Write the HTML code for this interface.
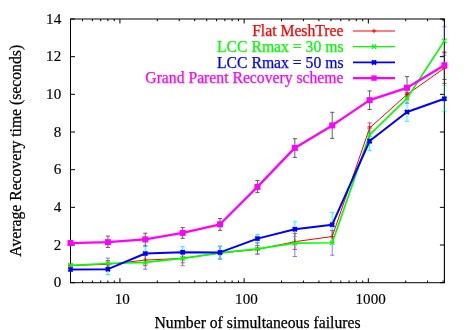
<!DOCTYPE html><html><head><meta charset="utf-8"><style>html,body{margin:0;padding:0;background:#fff}body{width:471px;height:330px;overflow:hidden;position:relative}svg text{font-family:"Liberation Serif",serif;stroke-width:0.25px}svg text.k{stroke:#000}svg text.t{stroke:#000;stroke-width:0.15px}</style></head><body><svg width="471" height="330" viewBox="0 0 471 330" style="position:absolute;left:0;top:0;will-change:transform">
<rect width="471" height="330" fill="#fff"/>
<path d="M70.5 282.70h4.5M444.4 282.70h-4.5M70.5 245.03h4.5M444.4 245.03h-4.5M70.5 207.36h4.5M444.4 207.36h-4.5M70.5 169.69h4.5M444.4 169.69h-4.5M70.5 132.01h4.5M444.4 132.01h-4.5M70.5 94.34h4.5M444.4 94.34h-4.5M70.5 56.67h4.5M444.4 56.67h-4.5M70.5 19.00h4.5M444.4 19.00h-4.5M119.93 282.7v-4.5M119.93 19.0v4.5M244.13 282.7v-4.5M244.13 19.0v4.5M368.34 282.7v-4.5M368.34 19.0v4.5M82.54 282.7v-2.2M82.54 19.0v2.2M92.37 282.7v-2.2M92.37 19.0v2.2M100.69 282.7v-2.2M100.69 19.0v2.2M107.89 282.7v-2.2M107.89 19.0v2.2M114.24 282.7v-2.2M114.24 19.0v2.2M157.32 282.7v-2.2M157.32 19.0v2.2M179.19 282.7v-2.2M179.19 19.0v2.2M194.71 282.7v-2.2M194.71 19.0v2.2M206.74 282.7v-2.2M206.74 19.0v2.2M216.58 282.7v-2.2M216.58 19.0v2.2M224.89 282.7v-2.2M224.89 19.0v2.2M232.10 282.7v-2.2M232.10 19.0v2.2M238.45 282.7v-2.2M238.45 19.0v2.2M281.52 282.7v-2.2M281.52 19.0v2.2M303.40 282.7v-2.2M303.40 19.0v2.2M318.91 282.7v-2.2M318.91 19.0v2.2M330.95 282.7v-2.2M330.95 19.0v2.2M340.79 282.7v-2.2M340.79 19.0v2.2M349.10 282.7v-2.2M349.10 19.0v2.2M356.30 282.7v-2.2M356.30 19.0v2.2M362.66 282.7v-2.2M362.66 19.0v2.2M405.73 282.7v-2.2M405.73 19.0v2.2M427.60 282.7v-2.2M427.60 19.0v2.2M443.12 282.7v-2.2M443.12 19.0v2.2" stroke="#000" stroke-width="1" fill="none"/>
<rect x="70.5" y="19.0" width="373.9" height="263.7" fill="none" stroke="#000" stroke-width="1"/>
<path d="M220.06 246.20V258.90M217.96 246.20h4.2M217.96 258.90h4.2" stroke="#ff3030" stroke-width="0.9" fill="none"/>
<path d="M220.06 246.30V259.00M217.96 246.30h4.2M217.96 259.00h4.2" stroke="#7070ff" stroke-width="0.9" fill="none"/>
<path d="M70.50 268.30V270.70M68.40 268.30h4.2M68.40 270.70h4.2M107.89 263.90V274.50M105.79 263.90h4.2M105.79 274.50h4.2M145.28 246.10V260.90M143.18 246.10h4.2M143.18 260.90h4.2M182.67 246.60V257.80M180.57 246.60h4.2M180.57 257.80h4.2M220.06 246.50V258.60M217.96 246.50h4.2M217.96 258.60h4.2M257.45 234.50V242.40M255.35 234.50h4.2M255.35 242.40h4.2M294.84 221.80V236.60M292.74 221.80h4.2M292.74 236.60h4.2M332.23 212.40V237.00M330.13 212.40h4.2M330.13 237.00h4.2M369.62 131.10V150.50M367.52 131.10h4.2M367.52 150.50h4.2M407.01 103.10V121.30M404.91 103.10h4.2M404.91 121.30h4.2M444.40 85.30V111.70M442.30 85.30h4.2M442.30 111.70h4.2" stroke="#00ffff" stroke-width="0.9" fill="none"/>
<path d="M70.50 264.50V266.50M68.40 264.50h4.2M68.40 266.50h4.2M107.89 260.50V268.10M105.79 260.50h4.2M105.79 268.10h4.2M145.28 254.50V265.70M143.18 254.50h4.2M143.18 265.70h4.2M182.67 254.00V262.80M180.57 254.00h4.2M180.57 262.80h4.2M257.45 245.50V254.00M255.35 245.50h4.2M255.35 254.00h4.2M294.84 233.60V249.50M292.74 233.60h4.2M292.74 249.50h4.2M332.23 230.60V242.40M330.13 230.60h4.2M330.13 242.40h4.2M369.62 122.90V133.10M367.52 122.90h4.2M367.52 133.10h4.2M407.01 92.30V96.70M404.91 92.30h4.2M404.91 96.70h4.2M444.40 52.90V83.50M442.30 52.90h4.2M442.30 83.50h4.2" stroke="#ff3030" stroke-width="0.9" fill="none"/>
<path d="M70.50 264.00V266.60M68.40 264.00h4.2M68.40 266.60h4.2M107.89 258.10V268.90M105.79 258.10h4.2M105.79 268.90h4.2M145.28 255.30V269.30M143.18 255.30h4.2M143.18 269.30h4.2M182.67 251.20V265.70M180.57 251.20h4.2M180.57 265.70h4.2M257.45 243.10V254.10M255.35 243.10h4.2M255.35 254.10h4.2M294.84 229.90V256.50M292.74 229.90h4.2M292.74 256.50h4.2M332.23 230.30V255.20M330.13 230.30h4.2M330.13 255.20h4.2M369.62 126.50V143.40M367.52 126.50h4.2M367.52 143.40h4.2M407.01 93.50V103.10M404.91 93.50h4.2M404.91 103.10h4.2M444.40 26.80V55.20M442.30 26.80h4.2M442.30 55.20h4.2" stroke="#7070ff" stroke-width="0.9" fill="none"/>
<path d="M70.50 241.50V244.60M68.40 241.50h4.2M68.40 244.60h4.2M107.89 236.10V247.45M105.79 236.10h4.2M105.79 247.45h4.2M145.28 233.20V245.96M143.18 233.20h4.2M143.18 245.96h4.2M182.67 227.60V238.30M180.57 227.60h4.2M180.57 238.30h4.2M220.06 218.50V230.40M217.96 218.50h4.2M217.96 230.40h4.2M257.45 180.50V192.60M255.35 180.50h4.2M255.35 192.60h4.2M294.84 138.70V157.40M292.74 138.70h4.2M292.74 157.40h4.2M332.23 112.30V138.40M330.13 112.30h4.2M330.13 138.40h4.2M369.62 90.90V109.45M367.52 90.90h4.2M367.52 109.45h4.2M407.01 76.60V99.00M404.91 76.60h4.2M404.91 99.00h4.2M444.40 52.00V79.50M442.30 52.00h4.2M442.30 79.50h4.2" stroke="#505050" stroke-width="0.9" fill="none"/>
<path d="M444.4 19.0V282.7" stroke="#000" stroke-width="1" opacity="0.6"/>
<polyline points="70.50,265.50 107.89,264.30 145.28,260.10 182.67,258.40 220.06,253.00 257.45,249.40 294.84,241.70 332.23,236.50 369.62,128.00 407.01,94.50 444.40,68.20" stroke="#ff0000" stroke-width="1.0" fill="none" stroke-linejoin="round"/>
<path d="M68.30 265.50h4.4M70.50 263.30v4.4" stroke="#ff0000" stroke-width="1" fill="none"/>
<path d="M105.69 264.30h4.4M107.89 262.10v4.4" stroke="#ff0000" stroke-width="1" fill="none"/>
<path d="M143.08 260.10h4.4M145.28 257.90v4.4" stroke="#ff0000" stroke-width="1" fill="none"/>
<path d="M180.47 258.40h4.4M182.67 256.20v4.4" stroke="#ff0000" stroke-width="1" fill="none"/>
<path d="M217.86 253.00h4.4M220.06 250.80v4.4" stroke="#ff0000" stroke-width="1" fill="none"/>
<path d="M255.25 249.40h4.4M257.45 247.20v4.4" stroke="#ff0000" stroke-width="1" fill="none"/>
<path d="M292.64 241.70h4.4M294.84 239.50v4.4" stroke="#ff0000" stroke-width="1" fill="none"/>
<path d="M330.03 236.50h4.4M332.23 234.30v4.4" stroke="#ff0000" stroke-width="1" fill="none"/>
<path d="M367.42 128.00h4.4M369.62 125.80v4.4" stroke="#ff0000" stroke-width="1" fill="none"/>
<path d="M404.81 94.50h4.4M407.01 92.30v4.4" stroke="#ff0000" stroke-width="1" fill="none"/>
<path d="M442.20 68.20h4.4M444.40 66.00v4.4" stroke="#ff0000" stroke-width="1" fill="none"/>
<polyline points="70.50,265.30 107.89,263.50 145.28,262.30 182.67,258.45 220.06,252.90 257.45,248.90 294.84,243.20 332.23,242.75 369.62,134.90 407.01,98.30 444.40,40.90" stroke="#00ff00" stroke-width="1.7" fill="none" stroke-linejoin="round"/>
<path d="M68.30 263.10l4.4 4.4M68.30 267.50l4.4 -4.4" stroke="#00ff00" stroke-width="1.2" fill="none"/>
<path d="M105.69 261.30l4.4 4.4M105.69 265.70l4.4 -4.4" stroke="#00ff00" stroke-width="1.2" fill="none"/>
<path d="M143.08 260.10l4.4 4.4M143.08 264.50l4.4 -4.4" stroke="#00ff00" stroke-width="1.2" fill="none"/>
<path d="M180.47 256.25l4.4 4.4M180.47 260.65l4.4 -4.4" stroke="#00ff00" stroke-width="1.2" fill="none"/>
<path d="M217.86 250.70l4.4 4.4M217.86 255.10l4.4 -4.4" stroke="#00ff00" stroke-width="1.2" fill="none"/>
<path d="M255.25 246.70l4.4 4.4M255.25 251.10l4.4 -4.4" stroke="#00ff00" stroke-width="1.2" fill="none"/>
<path d="M292.64 241.00l4.4 4.4M292.64 245.40l4.4 -4.4" stroke="#00ff00" stroke-width="1.2" fill="none"/>
<path d="M330.03 240.55l4.4 4.4M330.03 244.95l4.4 -4.4" stroke="#00ff00" stroke-width="1.2" fill="none"/>
<path d="M367.42 132.70l4.4 4.4M367.42 137.10l4.4 -4.4" stroke="#00ff00" stroke-width="1.2" fill="none"/>
<path d="M404.81 96.10l4.4 4.4M404.81 100.50l4.4 -4.4" stroke="#00ff00" stroke-width="1.2" fill="none"/>
<path d="M442.20 38.70l4.4 4.4M442.20 43.10l4.4 -4.4" stroke="#00ff00" stroke-width="1.2" fill="none"/>
<polyline points="70.50,269.50 107.89,269.20 145.28,253.50 182.67,252.20 220.06,252.40 257.45,238.60 294.84,229.20 332.23,224.70 369.62,141.00 407.01,112.00 444.40,98.80" stroke="#0000ff" stroke-width="2.0" fill="none" stroke-linejoin="round"/>
<path d="M68.40 267.40l4.2 4.2M68.40 271.60l4.2 -4.2M68.40 269.50h4.2M70.50 267.40v4.2" stroke="#0000ff" stroke-width="1.8" fill="none"/>
<path d="M105.79 267.10l4.2 4.2M105.79 271.30l4.2 -4.2M105.79 269.20h4.2M107.89 267.10v4.2" stroke="#0000ff" stroke-width="1.8" fill="none"/>
<path d="M143.18 251.40l4.2 4.2M143.18 255.60l4.2 -4.2M143.18 253.50h4.2M145.28 251.40v4.2" stroke="#0000ff" stroke-width="1.8" fill="none"/>
<path d="M180.57 250.10l4.2 4.2M180.57 254.30l4.2 -4.2M180.57 252.20h4.2M182.67 250.10v4.2" stroke="#0000ff" stroke-width="1.8" fill="none"/>
<path d="M217.96 250.30l4.2 4.2M217.96 254.50l4.2 -4.2M217.96 252.40h4.2M220.06 250.30v4.2" stroke="#0000ff" stroke-width="1.8" fill="none"/>
<path d="M255.35 236.50l4.2 4.2M255.35 240.70l4.2 -4.2M255.35 238.60h4.2M257.45 236.50v4.2" stroke="#0000ff" stroke-width="1.8" fill="none"/>
<path d="M292.74 227.10l4.2 4.2M292.74 231.30l4.2 -4.2M292.74 229.20h4.2M294.84 227.10v4.2" stroke="#0000ff" stroke-width="1.8" fill="none"/>
<path d="M330.13 222.60l4.2 4.2M330.13 226.80l4.2 -4.2M330.13 224.70h4.2M332.23 222.60v4.2" stroke="#0000ff" stroke-width="1.8" fill="none"/>
<path d="M367.52 138.90l4.2 4.2M367.52 143.10l4.2 -4.2M367.52 141.00h4.2M369.62 138.90v4.2" stroke="#0000ff" stroke-width="1.8" fill="none"/>
<path d="M404.91 109.90l4.2 4.2M404.91 114.10l4.2 -4.2M404.91 112.00h4.2M407.01 109.90v4.2" stroke="#0000ff" stroke-width="1.8" fill="none"/>
<path d="M442.30 96.70l4.2 4.2M442.30 100.90l4.2 -4.2M442.30 98.80h4.2M444.40 96.70v4.2" stroke="#0000ff" stroke-width="1.8" fill="none"/>
<polyline points="70.50,243.05 107.89,242.15 145.28,239.40 182.67,232.90 220.06,224.30 257.45,186.90 294.84,147.90 332.23,125.40 369.62,100.10 407.01,87.80 444.40,65.30" stroke="#ff00ff" stroke-width="2.3" fill="none" stroke-linejoin="round"/>
<rect x="67.50" y="240.05" width="6.0" height="6.0" fill="#ff00ff"/>
<rect x="104.89" y="239.15" width="6.0" height="6.0" fill="#ff00ff"/>
<rect x="142.28" y="236.40" width="6.0" height="6.0" fill="#ff00ff"/>
<rect x="179.67" y="229.90" width="6.0" height="6.0" fill="#ff00ff"/>
<rect x="217.06" y="221.30" width="6.0" height="6.0" fill="#ff00ff"/>
<rect x="254.45" y="183.90" width="6.0" height="6.0" fill="#ff00ff"/>
<rect x="291.84" y="144.90" width="6.0" height="6.0" fill="#ff00ff"/>
<rect x="329.23" y="122.40" width="6.0" height="6.0" fill="#ff00ff"/>
<rect x="366.62" y="97.10" width="6.0" height="6.0" fill="#ff00ff"/>
<rect x="404.01" y="84.80" width="6.0" height="6.0" fill="#ff00ff"/>
<rect x="441.40" y="62.30" width="6.0" height="6.0" fill="#ff00ff"/>
<path d="M353 31.0H395" stroke="#ff0000" stroke-width="1"/>
<text x="343.5" y="36.00" text-anchor="end" fill="#ff0000" stroke="#ff0000" stroke-width="0.2" font-size="15.7">Flat MeshTree</text>
<path d="M353 46.7H395" stroke="#00ff00" stroke-width="1.3"/>
<text x="343.5" y="52.00" text-anchor="end" fill="#00ff00" stroke="#00ff00" stroke-width="0.2" font-size="15.7">LCC Rmax = 30 ms</text>
<path d="M353 62.4H395" stroke="#0000ff" stroke-width="1.9"/>
<text x="343.5" y="67.70" text-anchor="end" fill="#0000ff" stroke="#0000ff" stroke-width="0.2" font-size="15.7">LCC Rmax = 50 ms</text>
<path d="M353 78.1H395" stroke="#ff00ff" stroke-width="2.4"/>
<text x="343.5" y="83.40" text-anchor="end" fill="#ff00ff" stroke="#ff00ff" stroke-width="0.2" font-size="15.7">Grand Parent Recovery scheme</text>
<path d="M371.80 31.00h4.4M374.00 28.80v4.4" stroke="#ff0000" stroke-width="1" fill="none"/>
<path d="M371.80 44.50l4.4 4.4M371.80 48.90l4.4 -4.4" stroke="#00ff00" stroke-width="1.2" fill="none"/>
<path d="M371.90 60.30l4.2 4.2M371.90 64.50l4.2 -4.2M371.90 62.40h4.2M374.00 60.30v4.2" stroke="#0000ff" stroke-width="1.8" fill="none"/>
<rect x="371.30" y="75.40" width="5.4" height="5.4" fill="#ff00ff"/>
<text class="t" x="61.2" y="287.40" text-anchor="end" font-size="15.1">0</text>
<text class="t" x="61.2" y="249.73" text-anchor="end" font-size="15.1">2</text>
<text class="t" x="61.2" y="212.06" text-anchor="end" font-size="15.1">4</text>
<text class="t" x="61.2" y="174.39" text-anchor="end" font-size="15.1">6</text>
<text class="t" x="61.2" y="136.71" text-anchor="end" font-size="15.1">8</text>
<text class="t" x="61.2" y="99.04" text-anchor="end" font-size="15.1">10</text>
<text class="t" x="61.2" y="61.37" text-anchor="end" font-size="15.1">12</text>
<text class="t" x="61.2" y="23.70" text-anchor="end" font-size="15.1">14</text>
<text class="t" x="122.23" y="303.9" text-anchor="middle" font-size="15.1">10</text>
<text class="t" x="246.43" y="303.9" text-anchor="middle" font-size="15.1">100</text>
<text class="t" x="370.64" y="303.9" text-anchor="middle" font-size="15.1">1000</text>
<text class="k" x="257.5" y="327.7" text-anchor="middle" font-size="15.7">Number of simultaneous failures</text>
<text class="k" transform="translate(21.2,150.8) rotate(-90)" text-anchor="middle" font-size="15.7">Average Recovery time (seconds)</text>
</svg></body></html>
